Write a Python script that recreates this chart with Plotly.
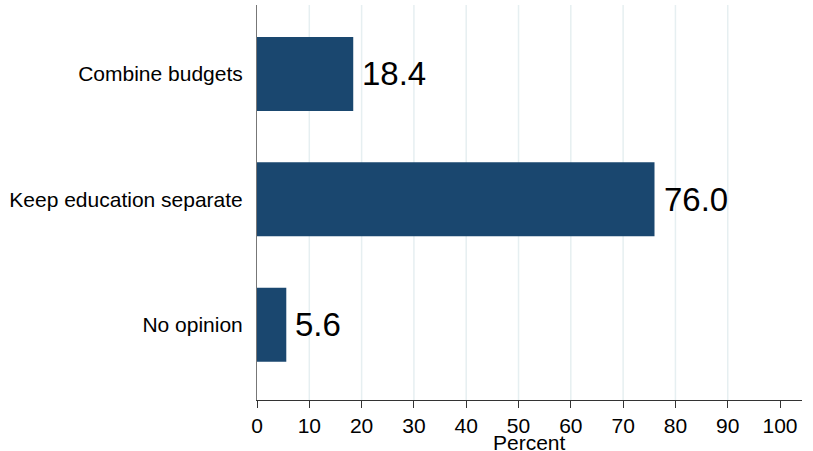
import plotly.graph_objects as go

categorias = ['Combine budgets', 'Keep education separate', 'No opinion']
porcentajes = [18.4, 76.0, 5.6]
x_ticks = [0, 10, 20, 30, 40, 50, 60, 70, 80, 90, 100]
x_grid = [10, 20, 30, 40, 50, 60, 70, 80, 90]

FONT = 'Arial, Liberation Sans, sans-serif'


def plot_barras(categorias, porcentajes):
    """
    Genera un grafico de barras horizontales con etiquetas de valor.
    """
    fig = go.Figure()

    fig.add_trace(go.Bar(
        y=categorias,
        x=porcentajes,
        orientation='h',
        width=0.59,
        marker=dict(color='#1a476f', line=dict(width=0)),
        hoverinfo='skip'
    ))

    # etiquetas de valor a la derecha de cada barra
    for cat, val in zip(categorias, porcentajes):
        fig.add_annotation(x=val, y=cat, xref='x', yref='y',
                           text=f'{val:.1f}', showarrow=False,
                           xanchor='left', xshift=7,
                           font=dict(size=33, color='#000000', family=FONT))

    # titulo del eje x, pegado a las etiquetas como en el original
    fig.add_annotation(x=0.5, y=0, xref='paper', yref='paper',
                       text='Percent', showarrow=False,
                       xanchor='center', yanchor='top', yshift=-29,
                       font=dict(size=21, color='#000000', family=FONT))

    # lineas de cuadricula (sin 0 ni 100, como en el original)
    for g in x_grid:
        fig.add_shape(type='line', xref='x', yref='paper',
                      x0=g, x1=g, y0=0, y1=1,
                      line=dict(color='#e6eff1', width=1.5),
                      layer='below')

    fig.update_layout(
        width=813,
        height=451,
        margin=dict(l=257, r=11, t=5, b=51),
        paper_bgcolor='white',
        plot_bgcolor='white',
        showlegend=False,
        font=dict(family=FONT, size=21, color='#000000'),
        xaxis=dict(
            range=[0, 104.2],
            tickvals=x_ticks,
            ticktext=[str(t) for t in x_ticks],
            showgrid=False,
            zeroline=False,
            showline=True,
            linecolor='#333333',
            linewidth=1,
            ticks='outside',
            ticklen=7,
            tickcolor='#333333',
            tickfont=dict(size=21),
            automargin=False
        ),
        yaxis=dict(
            type='category',
            categoryorder='array',
            categoryarray=categorias,
            range=[2.6, -0.55],
            showgrid=False,
            zeroline=False,
            showline=True,
            linecolor='#777777',
            linewidth=1,
            ticks='',
            ticklabelstandoff=9,
            automargin=False,
            tickfont=dict(size=21)
        )
    )

    return fig


fig = plot_barras(categorias, porcentajes)
fig.write_html('out.html', config={'displayModeBar': False},
               post_script="document.body.style.margin='0';")
